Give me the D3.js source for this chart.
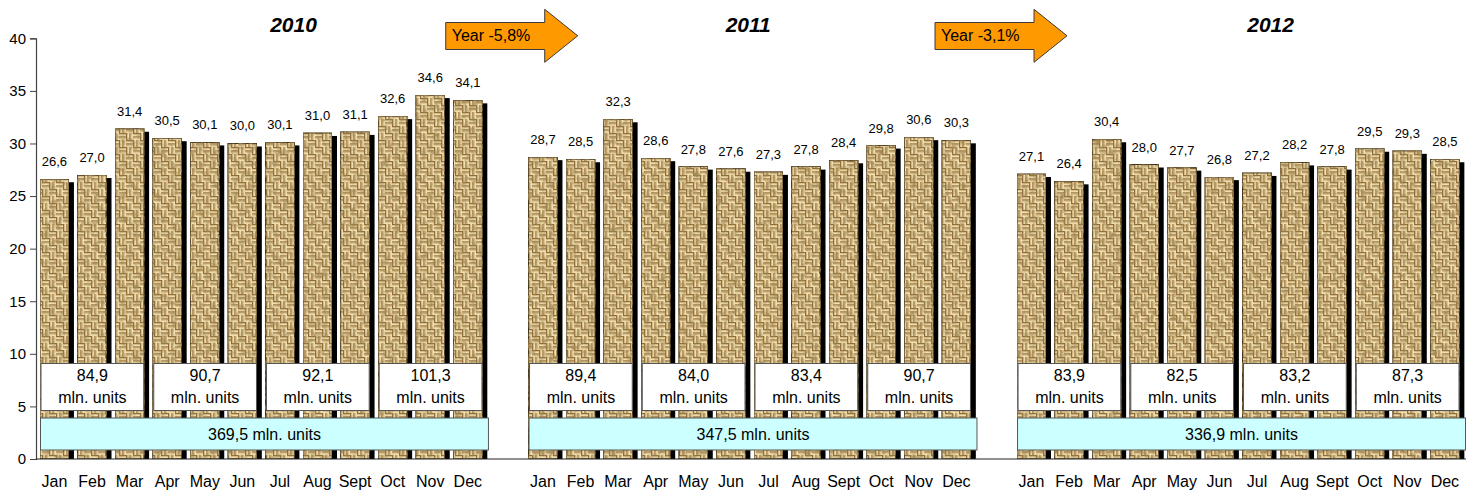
<!DOCTYPE html>
<html>
<head>
<meta charset="utf-8">
<script src="https://cdn.jsdelivr.net/npm/d3@7"></script>
<style>
  html, body { margin: 0; padding: 0; background: #fff; }
  svg { display: block; font-family: Arial, "Liberation Sans", sans-serif; }
</style>
</head>
<body>
<svg id="chart" width="1475" height="492"></svg>
<script>
// Monthly sales, mln. units
const months = ["Jan", "Feb", "Mar", "Apr", "May", "Jun", "Jul", "Aug", "Sept", "Oct", "Nov", "Dec"];
const years = ["2010", "2011", "2012"];
const sales2010 = [26.6, 27.0, 31.4, 30.5, 30.1, 30.0, 30.1, 31.0, 31.1, 32.6, 34.6, 34.1];
const sales2011 = [28.7, 28.5, 32.3, 28.6, 27.8, 27.6, 27.3, 27.8, 28.4, 29.8, 30.6, 30.3];
const sales2012 = [27.1, 26.4, 30.4, 28.0, 27.7, 26.8, 27.2, 28.2, 27.8, 29.5, 29.3, 28.5];
const quarters2010 = [84.9, 90.7, 92.1, 101.3];
const quarters2011 = [89.4, 84.0, 83.4, 90.7];
const quarters2012 = [83.9, 82.5, 83.2, 87.3];
const yearTotals = [369.5, 347.5, 336.9];
const yearChanges = [-5.8, -3.1];
const yTicks = [0, 5, 10, 15, 20, 25, 30, 35, 40];

const salesByYear = [sales2010, sales2011, sales2012];
const quartersByYear = [quarters2010, quarters2011, quarters2012];
const unit = "mln. units";
// decimal comma, plain hyphen for negatives
const locale = d3.formatLocale({ decimal: ",", thousands: " ", grouping: [3], currency: ["", ""], minus: "-" });
const fmt = locale.format(".1f");

const svg = d3.select("#chart");
const FONT = 'Arial, "Liberation Sans", sans-serif';

// 12 months per year plus one empty slot between years
const SLOTS_PER_YEAR = 13;
const slotCount = SLOTS_PER_YEAR * years.length - 1;
const x = d3.scaleBand().domain(d3.range(slotCount)).range([38, 1466]).padding(0);
const y = d3.scaleLinear().domain([0, 40]).range([459, 38.3]);
const slotX = s => x.range()[0] + s * x.step();

const bw = x.step();
const barOffset = 2;
const barW = bw * 0.77;
const shadowDx = 5, shadowDy = 3;

// ---- woven texture for bars ----
const defs = svg.append("defs");
const T = 14, H = T / 2;
const pat = defs.append("pattern")
  .attr("id", "weave").attr("patternUnits", "userSpaceOnUse")
  .attr("width", T).attr("height", T);
pat.append("rect").attr("width", T).attr("height", T).attr("fill", "#c2a166");
const strandRows = [["#8f6d3b", 0, 1], ["#d9be88", 1, 1], ["#efdfb0", 2, 1.5]];
const strand = (g, horiz, ox, oy) => {
  for (let k = 0; k < 2; k++) {
    const o = k * 3.5;
    strandRows.forEach(([c, d, s]) => {
      if (horiz) g.append("rect").attr("x", ox).attr("y", oy + o + d).attr("width", H).attr("height", s).attr("fill", c);
      else g.append("rect").attr("x", ox + o + d).attr("y", oy).attr("width", s).attr("height", H).attr("fill", c);
    });
  }
};
strand(pat, true, 0, 0);
strand(pat, false, H, 0);
strand(pat, false, 0, H);
strand(pat, true, H, H);

const grain = defs.append("filter").attr("id", "grain")
  .attr("x", 0).attr("y", 0).attr("width", 1).attr("height", 1);
grain.append("feGaussianBlur").attr("in", "SourceGraphic").attr("stdDeviation", 0.5).attr("result", "soft");
grain.append("feTurbulence").attr("type", "fractalNoise").attr("baseFrequency", 0.18)
  .attr("numOctaves", 2).attr("seed", 7).attr("result", "noise");
grain.append("feColorMatrix").attr("in", "noise").attr("type", "matrix")
  .attr("values", "0 0 0 0 0.36  0 0 0 0 0.24  0 0 0 0 0.08  1.9 0 0 0 -0.72")
  .attr("result", "spots");
grain.append("feComposite").attr("in", "spots").attr("in2", "SourceAlpha")
  .attr("operator", "in").attr("result", "spotsIn");
const gm = grain.append("feMerge");
gm.append("feMergeNode").attr("in", "soft");
gm.append("feMergeNode").attr("in", "spotsIn");

// ---- bars ----
const barData = [];
salesByYear.forEach((vals, yi) => vals.forEach((v, mi) => {
  barData.push({ year: yi, month: mi, value: v, slot: yi * SLOTS_PER_YEAR + mi });
}));

const bars = svg.append("g");
bars.selectAll("rect.shadow").data(barData).join("rect")
  .attr("class", "shadow")
  .attr("x", d => x(d.slot) + barOffset + shadowDx)
  .attr("y", d => y(d.value) + shadowDy)
  .attr("width", barW)
  .attr("height", d => y(0) - y(d.value) - shadowDy)
  .attr("fill", "#000");
bars.selectAll("rect.bar").data(barData).join("rect")
  .attr("class", "bar")
  .attr("x", d => x(d.slot) + barOffset)
  .attr("y", d => y(d.value))
  .attr("width", barW)
  .attr("height", d => y(0) - y(d.value))
  .attr("fill", "url(#weave)")
  .attr("stroke", "#3e321c").attr("stroke-width", 1)
  .attr("filter", "url(#grain)");

// value labels
svg.append("g").selectAll("text").data(barData).join("text")
  .attr("x", d => x(d.slot) + barOffset + barW / 2)
  .attr("y", d => y(d.value) - 13)
  .attr("text-anchor", "middle")
  .attr("font-size", 13).attr("fill", "#000")
  .text(d => fmt(d.value));

// ---- axes ----
const yAxis = svg.append("g").attr("transform", "translate(36,0)")
  .call(d3.axisLeft(y).tickValues(yTicks).tickSize(6).tickPadding(4));
yAxis.select(".domain").attr("stroke", "#444").attr("stroke-width", 1.2);
yAxis.selectAll(".tick line").attr("stroke", "#444");
yAxis.selectAll(".tick text").attr("font-size", 15).attr("font-family", FONT).attr("fill", "#000");

svg.append("line")
  .attr("x1", 36).attr("x2", x.range()[1])
  .attr("y1", y(0)).attr("y2", y(0))
  .attr("stroke", "#222").attr("stroke-width", 1.2);

// month labels
svg.append("g").selectAll("text").data(barData).join("text")
  .attr("x", d => x(d.slot) + barOffset + barW / 2)
  .attr("y", 487)
  .attr("text-anchor", "middle")
  .attr("font-size", 16).attr("fill", "#000")
  .text(d => months[d.month]);

// ---- quarter boxes ----
const qData = [];
quartersByYear.forEach((qs, yi) => qs.forEach((v, qi) => {
  qData.push({ year: yi, q: qi, value: v, slot: yi * SLOTS_PER_YEAR + qi * 3 });
}));
const qY0 = 363.5, qY1 = 410.5;
const qg = svg.append("g").selectAll("g").data(qData).join("g");
qg.append("rect")
  .attr("x", d => x(d.slot) + 3)
  .attr("y", qY0)
  .attr("width", 3 * bw - 10)
  .attr("height", qY1 - qY0)
  .attr("fill", "#fff").attr("stroke", "#555").attr("stroke-width", 1);
qg.append("text")
  .attr("x", d => x(d.slot) + 3 + (3 * bw - 10) / 2)
  .attr("y", 381)
  .attr("text-anchor", "middle").attr("font-size", 16)
  .text(d => fmt(d.value));
qg.append("text")
  .attr("x", d => x(d.slot) + 3 + (3 * bw - 10) / 2)
  .attr("y", 403)
  .attr("text-anchor", "middle").attr("font-size", 16)
  .text(unit);

// ---- year total boxes ----
const yData = yearTotals.map((v, yi) => ({ year: yi, value: v, slot: yi * SLOTS_PER_YEAR }));
const yg = svg.append("g").selectAll("g").data(yData).join("g");
const yW = 12 * bw - 3;
yg.append("rect")
  .attr("x", d => x(d.slot) + 2.5)
  .attr("y", 418)
  .attr("width", yW)
  .attr("height", 32)
  .attr("fill", "#ccffff").attr("stroke", "#555").attr("stroke-width", 1);
yg.append("text")
  .attr("x", d => x(d.slot) + 2.5 + yW / 2)
  .attr("y", 439.5)
  .attr("text-anchor", "middle").attr("font-size", 16)
  .text(d => fmt(d.value) + " " + unit);

// ---- year titles ----
const titleSlots = [6.8, 18.9, 32.8];
svg.append("g").selectAll("text").data(years).join("text")
  .attr("x", (d, i) => slotX(titleSlots[i]))
  .attr("y", 32)
  .attr("text-anchor", "middle")
  .attr("font-size", 21).attr("font-weight", "bold").attr("font-style", "italic")
  .text(d => d);

// ---- year-over-year arrows ----
const arrowSlots = [10.85, 23.87];
const bodyW = 99, headW = 33, bodyTop = 22.5, bodyBot = 49.5, headTop = 9.3, headBot = 62.3;
const arrowPath = x0 => {
  const xb = x0 + bodyW, xt = xb + headW, cy = (headTop + headBot) / 2;
  return `M${x0},${bodyTop}H${xb}V${headTop}L${xt},${cy}L${xb},${headBot}V${bodyBot}H${x0}Z`;
};
const ag = svg.append("g").selectAll("g").data(yearChanges).join("g");
ag.append("path")
  .attr("d", (d, i) => arrowPath(slotX(arrowSlots[i])))
  .attr("fill", "#ff9900").attr("stroke", "#3a3a3a").attr("stroke-width", 1);
ag.append("text")
  .attr("x", (d, i) => slotX(arrowSlots[i]) + 6)
  .attr("y", 41)
  .attr("font-size", 16)
  .text(d => "Year " + fmt(d) + "%");
</script>
</body>
</html>
